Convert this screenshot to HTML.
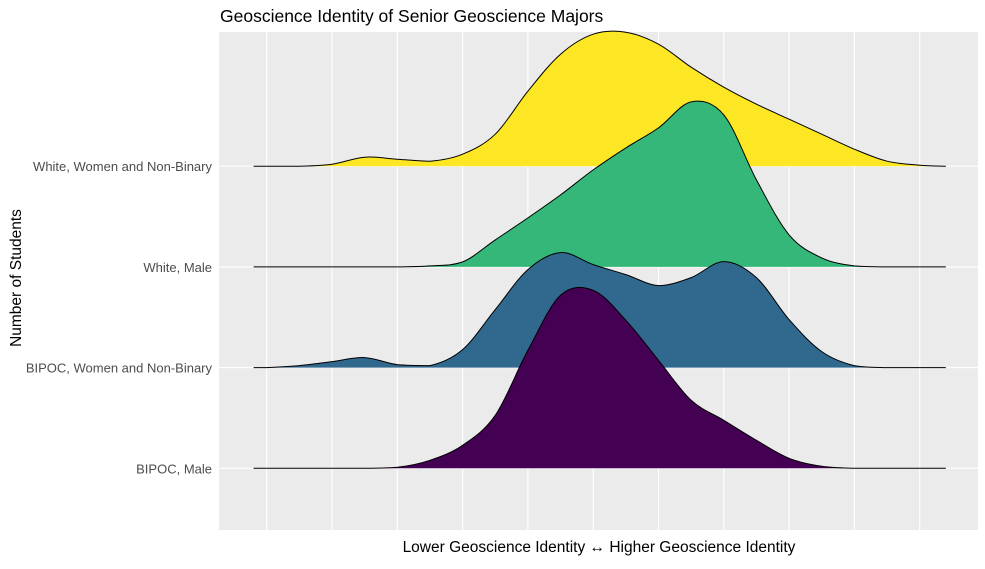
<!DOCTYPE html>
<html><head><meta charset="utf-8"><style>
body{margin:0;background:#fff;font-family:"Liberation Sans",Arial,sans-serif;}
svg text{font-family:"Liberation Sans",Arial,sans-serif;}
</style></head><body>
<svg id="chart" width="985" height="564">
<rect x="0" y="0" width="985" height="564" fill="#fff"/>
<text x="220" y="22" font-size="17.5" fill="#000">Geoscience Identity of Senior Geoscience Majors</text>
<rect x="219" y="32" width="759" height="498" fill="#ebebeb"/>
<g id="grid"></g>
<g id="ridges"></g>
<g id="labels"></g>
<text x="599" y="552" font-size="15.5" text-anchor="middle" fill="#000">Lower Geoscience Identity ↔ Higher Geoscience Identity</text>
<text transform="translate(21,278) rotate(-90)" font-size="15.5" text-anchor="middle" fill="#000">Number of Students</text>
</svg>
<script>
const groups = ["BIPOC, Male","BIPOC, Women and Non-Binary","White, Male","White, Women and Non-Binary"];
const xs = [-0.2,0,0.5,1,1.5,2,2.5,3,3.5,4,4.5,5,5.5,6,6.5,7,7.5,8,8.5,9,9.5,10,10.4];
const purple = [0,0,0,0,0,1,8,23,53,118,173,178,148,108,68,48,28,10,2,0,0,0,0];
const blue   = [0,0,2,6,10,3,2,18,58,98,115,103,93,82,90,106,90,48,16,2,0,0,0];
const green  = [0,0,0,0,0,0,1,5,27,49,72,97,119,139,165,152,87,32,9,1,0,0,0];
const yellow = [0,0,0,2,9,7,5,12,32,75,112,132,134,122,99,79,62,47,32,17,5,1,0];
const series = [purple, blue, green, yellow];
const colors = ["#440154","#31688E","#35B779","#FDE725"];
const gridTicks = [0,1,2,3,4,5,6,7,8,9,10];

const NS="http://www.w3.org/2000/svg";
function xScale(v){return 266.7+65.3*v;}
function yBase(i){return 468.3-100.7*i;}
function yScale(i,h){return yBase(i)-h;}

const grid=document.getElementById('grid');
gridTicks.forEach(t=>{
  const l=document.createElementNS(NS,'line');
  l.setAttribute('x1',xScale(t));l.setAttribute('x2',xScale(t));
  l.setAttribute('y1',32);l.setAttribute('y2',530);
  l.setAttribute('stroke','#fff');l.setAttribute('stroke-width','1.1');
  
  
  grid.appendChild(l);
});
groups.forEach((g,i)=>{
  const l=document.createElementNS(NS,'line');
  l.setAttribute('x1',219);l.setAttribute('x2',978);
  l.setAttribute('y1',yBase(i));l.setAttribute('y2',yBase(i));
  l.setAttribute('stroke','#fff');l.setAttribute('stroke-width','1.1');
  
  
  grid.appendChild(l);
});

function smoothPath(pts){
  let d=`M${pts[0][0]},${pts[0][1]}`;
  for(let k=0;k<pts.length-1;k++){
    const p0=pts[Math.max(k-1,0)],p1=pts[k],p2=pts[k+1],p3=pts[Math.min(k+2,pts.length-1)];
    let c1y=p1[1]+(p2[1]-p0[1])/6, c2y=p2[1]-(p3[1]-p1[1])/6;
    const base=Math.max(p1[1],p2[1]);
    c1y=Math.min(c1y,base); c2y=Math.min(c2y,base);
    d+=` C${p1[0]+(p2[0]-p0[0])/6},${c1y} ${p2[0]-(p3[0]-p1[0])/6},${c2y} ${p2[0]},${p2[1]}`;
  }
  return d;
}
const ridges=document.getElementById('ridges');
const names=["ridge-bipoc-male","ridge-bipoc-women-nonbinary","ridge-white-male","ridge-white-women-nonbinary"];
for(let i=groups.length-1;i>=0;i--){
  const pts=xs.map((x,k)=>[xScale(x),yScale(i,series[i][k])]);
  const d=smoothPath(pts);
  const f=document.createElementNS(NS,'path');
  f.setAttribute('d',d+` L${xScale(xs[xs.length-1])},${yBase(i)} L${xScale(xs[0])},${yBase(i)} Z`);
  f.setAttribute('fill',colors[i]);
  
  
  ridges.appendChild(f);
  const p=document.createElementNS(NS,'path');
  p.setAttribute('d',d);p.setAttribute('fill','none');
  p.setAttribute('stroke','#000');p.setAttribute('stroke-width','1');
  
  
  ridges.appendChild(p);
}
const labels=document.getElementById('labels');
groups.forEach((g,i)=>{
  const t=document.createElementNS(NS,'text');
  t.setAttribute('x',212);t.setAttribute('y',yBase(i)+5);
  t.setAttribute('text-anchor','end');t.setAttribute('font-size','13');
  t.setAttribute('fill','#4d4d4d');
  t.textContent=g;
  
  
  labels.appendChild(t);
});
</script>
</body></html>
